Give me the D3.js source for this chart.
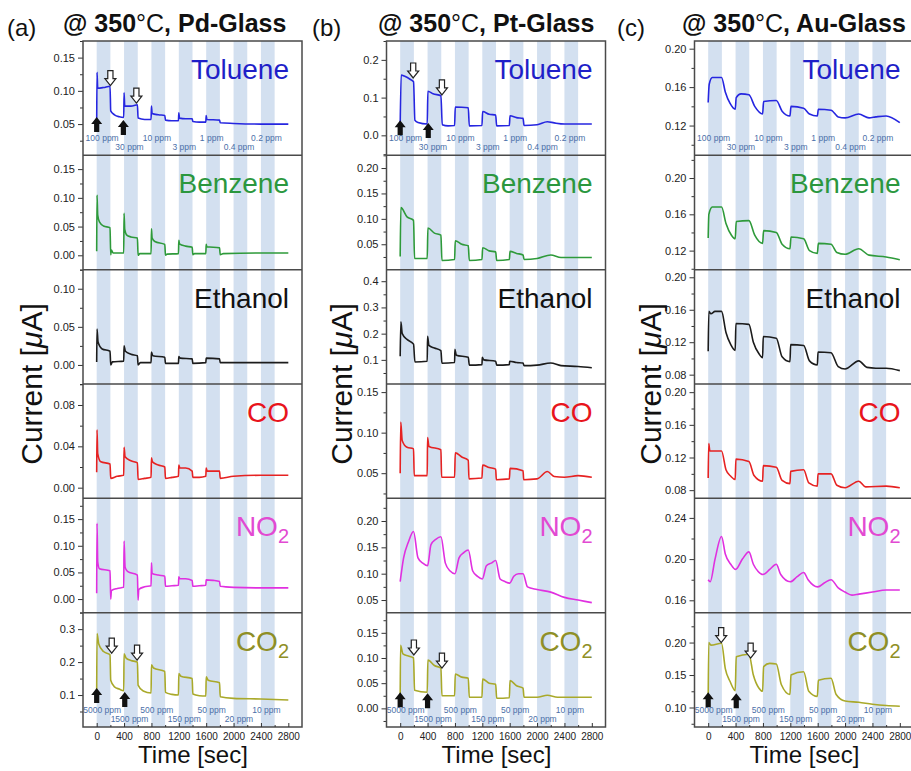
<!DOCTYPE html>
<html>
<head>
<meta charset="utf-8">
<script src="https://cdn.jsdelivr.net/npm/d3@7"></script>
<style>
body { margin: 0; background: #fff; }
svg { display: block; font-family: "Liberation Sans", Arial, sans-serif; }
</style>
</head>
<body>
<svg></svg>
<script>
// gases, one sub-plot each, top to bottom
var gases = ['Toluene', 'Benzene', 'Ethanol', 'CO', 'NO2', 'CO2'];
var pulseStarts = [0, 400, 800, 1200, 1600, 2000, 2400];
var pulseLength = 200;
var toluenePpm = ['100 ppm', '30 ppm', '10 ppm', '3 ppm', '1 ppm', '0.4 ppm', '0.2 ppm'];
var co2Ppm = ['5000 ppm', '1500 ppm', '500 ppm', '150 ppm', '50 ppm', '20 ppm', '10 ppm'];
var xTicks = [0, 400, 800, 1200, 1600, 2000, 2400, 2800];

// ---- (a) Pd-Glass ----
var pdToluene = [[0,0.050],[5,0.128],[15,0.104],[100,0.105],[195,0.107],[205,0.070],[260,0.064],[330,0.061],[395,0.060],[400,0.097],[410,0.077],[500,0.077],[595,0.079],[605,0.059],[700,0.057],[795,0.057],[800,0.077],[810,0.066],[900,0.064],[995,0.063],[1005,0.056],[1100,0.055],[1195,0.055],[1200,0.067],[1210,0.059],[1300,0.058],[1395,0.058],[1405,0.054],[1500,0.053],[1595,0.053],[1600,0.063],[1610,0.057],[1795,0.056],[1805,0.052],[2000,0.051],[2400,0.050],[2800,0.050]];
var pdBenzene = [[0,0.007],[5,0.105],[15,0.070],[40,0.058],[100,0.051],[195,0.048],[205,0.001],[215,0.009],[240,0.004],[395,0.004],[400,0.073],[410,0.045],[440,0.035],[500,0.032],[595,0.030],[605,0.000],[630,0.003],[795,0.003],[800,0.046],[810,0.030],[850,0.024],[995,0.019],[1005,0.000],[1030,0.002],[1195,0.003],[1200,0.026],[1210,0.020],[1300,0.016],[1395,0.014],[1405,0.001],[1430,0.003],[1595,0.003],[1600,0.019],[1610,0.015],[1795,0.013],[1805,0.001],[1850,0.003],[2400,0.004],[2800,0.004]];
var pdEthanol = [[0,0.004],[5,0.047],[20,0.030],[80,0.021],[195,0.018],[205,0.000],[230,0.004],[395,0.005],[400,0.025],[420,0.018],[500,0.014],[595,0.012],[605,0.000],[640,0.003],[795,0.003],[800,0.017],[820,0.012],[995,0.010],[1005,0.002],[1195,0.002],[1200,0.011],[1220,0.009],[1395,0.008],[1405,0.002],[1595,0.003],[1600,0.009],[1795,0.008],[1805,0.003],[2800,0.003]];
var pdCO = [[0,0.015],[5,0.056],[15,0.033],[60,0.025],[195,0.023],[205,0.009],[300,0.011],[395,0.012],[400,0.039],[415,0.030],[500,0.026],[595,0.024],[605,0.008],[700,0.009],[795,0.010],[800,0.029],[815,0.025],[900,0.022],[995,0.020],[1005,0.009],[1100,0.010],[1195,0.011],[1200,0.022],[1215,0.019],[1300,0.019],[1395,0.016],[1405,0.010],[1500,0.010],[1595,0.011],[1600,0.019],[1615,0.016],[1795,0.016],[1805,0.009],[2000,0.011],[2400,0.012],[2800,0.012]];
var pdNO2 = [[0,0.011],[5,0.142],[15,0.070],[40,0.057],[195,0.053],[205,0.000],[215,0.016],[300,0.020],[395,0.022],[400,0.109],[415,0.060],[450,0.052],[595,0.045],[605,-0.002],[615,0.018],[700,0.023],[795,0.025],[800,0.068],[810,0.048],[900,0.045],[995,0.043],[1005,0.024],[1100,0.025],[1195,0.026],[1200,0.042],[1215,0.038],[1300,0.038],[1395,0.035],[1405,0.024],[1500,0.025],[1595,0.026],[1600,0.036],[1700,0.035],[1795,0.033],[1805,0.024],[2000,0.022],[2400,0.021],[2800,0.021]];
var pdCO2 = [[0,0.110],[5,0.287],[30,0.255],[100,0.232],[195,0.222],[205,0.145],[260,0.125],[330,0.118],[395,0.113],[400,0.225],[430,0.212],[500,0.205],[595,0.200],[605,0.130],[680,0.112],[795,0.106],[800,0.192],[830,0.182],[995,0.172],[1005,0.108],[1100,0.102],[1195,0.100],[1200,0.165],[1230,0.157],[1395,0.150],[1405,0.103],[1500,0.098],[1595,0.097],[1600,0.155],[1630,0.145],[1795,0.137],[1805,0.095],[2000,0.090],[2400,0.088],[2800,0.085]];
var pdRanges = [[0.003,0.175],[-0.025,0.174],[-0.025,0.125],[-0.0103,0.1003],[-0.0255,0.189],[0.003,0.35]];
var pdTicks = [[0.05,0.10,0.15],[0,0.05,0.10,0.15],[0,0.05,0.10],[0,0.04,0.08],[0,0.05,0.10,0.15],[0.1,0.2,0.3]];
// [sub-plot, time, value of arrow tip]
var pdArrowUp = [[0,0,0.0605],[0,390,0.056],[5,0,0.121],[5,410,0.109]];
var pdArrowDown = [[0,200,0.108],[0,580,0.0815],[5,220,0.227],[5,590,0.206]];

// ---- (b) Pt-Glass ----
var ptToluene = [[0,0.026],[15,0.160],[60,0.157],[150,0.148],[195,0.142],[215,0.040],[260,0.034],[395,0.030],[405,0.117],[480,0.110],[595,0.105],[615,0.028],[700,0.025],[795,0.026],[805,0.075],[995,0.073],[1010,0.025],[1195,0.026],[1205,0.063],[1300,0.056],[1395,0.054],[1410,0.025],[1595,0.026],[1605,0.052],[1700,0.047],[1795,0.045],[1810,0.026],[2000,0.028],[2150,0.036],[2250,0.033],[2400,0.030],[2800,0.030]];
var ptBenzene = [[0,0.026],[10,0.122],[100,0.104],[195,0.097],[210,0.022],[395,0.022],[405,0.082],[500,0.072],[595,0.068],[610,0.018],[795,0.020],[805,0.057],[900,0.050],[995,0.047],[1010,0.018],[1195,0.020],[1205,0.043],[1300,0.037],[1395,0.035],[1410,0.018],[1595,0.020],[1605,0.036],[1700,0.032],[1795,0.029],[1810,0.020],[2000,0.022],[2200,0.029],[2350,0.024],[2800,0.024]];
var ptEthanol = [[0,0.114],[10,0.245],[30,0.200],[100,0.178],[195,0.160],[215,0.092],[395,0.095],[400,0.190],[420,0.155],[500,0.145],[595,0.135],[610,0.087],[795,0.090],[800,0.140],[820,0.118],[995,0.110],[1010,0.080],[1195,0.082],[1200,0.110],[1220,0.100],[1395,0.095],[1410,0.080],[1595,0.082],[1600,0.095],[1700,0.090],[1795,0.088],[1810,0.078],[2000,0.080],[2200,0.088],[2350,0.078],[2600,0.075],[2800,0.070]];
var ptCO = [[0,0.050],[8,0.113],[30,0.090],[100,0.082],[195,0.080],[205,0.047],[395,0.047],[400,0.094],[420,0.083],[595,0.079],[605,0.045],[795,0.045],[805,0.075],[900,0.070],[995,0.066],[1005,0.043],[1195,0.044],[1205,0.060],[1300,0.057],[1395,0.055],[1405,0.042],[1595,0.043],[1605,0.056],[1795,0.053],[1805,0.042],[2000,0.043],[2150,0.052],[2250,0.046],[2400,0.045],[2600,0.047],[2800,0.045]];
var ptNO2 = [[0,0.085],[50,0.130],[120,0.160],[195,0.180],[260,0.130],[330,0.120],[400,0.115],[450,0.155],[520,0.165],[595,0.170],[660,0.120],[730,0.105],[800,0.100],[860,0.130],[930,0.140],[995,0.145],[1060,0.105],[1130,0.095],[1200,0.090],[1260,0.115],[1330,0.120],[1395,0.125],[1460,0.090],[1530,0.085],[1600,0.082],[1660,0.095],[1730,0.100],[1795,0.100],[1860,0.075],[2000,0.070],[2200,0.065],[2400,0.055],[2600,0.050],[2800,0.045]];
var ptCO2 = [[0,0.016],[5,0.125],[40,0.108],[120,0.104],[195,0.100],[210,0.036],[395,0.032],[405,0.096],[500,0.085],[595,0.080],[610,0.025],[795,0.025],[805,0.068],[900,0.062],[995,0.060],[1010,0.022],[1195,0.022],[1205,0.058],[1300,0.050],[1395,0.048],[1410,0.020],[1595,0.021],[1605,0.055],[1700,0.045],[1795,0.040],[1810,0.022],[2000,0.022],[2150,0.026],[2300,0.022],[2800,0.022]];
var ptRanges = [[-0.053,0.25],[0,0.225],[0.008,0.444],[0.019,0.16],[0.026,0.243],[-0.037,0.19]];
var ptTicks = [[0,0.1,0.2],[0.05,0.10,0.15,0.20],[0.1,0.2,0.3,0.4],[0.05,0.10,0.15],[0.05,0.10,0.15,0.20],[0,0.05,0.10,0.15]];
var ptArrowUp = [[0,0,0.040],[0,410,0.0325],[5,0,0.032],[5,400,0.030]];
var ptArrowDown = [[0,190,0.152],[0,610,0.107],[5,200,0.106],[5,610,0.080]];

// ---- (c) Au-Glass ----
var auToluene = [[0,0.144],[15,0.163],[60,0.170],[195,0.170],[250,0.155],[320,0.143],[395,0.137],[410,0.149],[480,0.153],[595,0.152],[680,0.140],[795,0.132],[810,0.145],[995,0.146],[1080,0.135],[1195,0.130],[1210,0.140],[1395,0.138],[1480,0.132],[1595,0.130],[1610,0.137],[1795,0.136],[1900,0.129],[2000,0.128],[2200,0.132],[2350,0.128],[2450,0.129],[2600,0.130],[2800,0.123]];
var auBenzene = [[0,0.134],[10,0.160],[60,0.168],[195,0.168],[260,0.150],[340,0.137],[395,0.133],[410,0.152],[595,0.153],[680,0.137],[795,0.128],[810,0.142],[995,0.140],[1080,0.127],[1195,0.122],[1210,0.135],[1395,0.133],[1480,0.120],[1595,0.117],[1610,0.128],[1795,0.127],[1880,0.118],[2000,0.116],[2200,0.122],[2350,0.115],[2600,0.113],[2800,0.110]];
var auEthanol = [[0,0.109],[10,0.158],[40,0.155],[100,0.158],[195,0.158],[260,0.132],[330,0.117],[395,0.110],[405,0.143],[595,0.142],[660,0.120],[740,0.106],[795,0.101],[805,0.127],[995,0.125],[1080,0.102],[1195,0.096],[1205,0.117],[1395,0.116],[1480,0.097],[1595,0.092],[1605,0.108],[1795,0.107],[1900,0.090],[2000,0.087],[2200,0.097],[2320,0.089],[2450,0.088],[2600,0.088],[2800,0.085]];
var auCO = [[0,0.095],[8,0.137],[25,0.128],[195,0.128],[260,0.105],[330,0.097],[395,0.093],[405,0.118],[595,0.115],[670,0.098],[795,0.091],[805,0.110],[995,0.108],[1080,0.092],[1195,0.088],[1205,0.103],[1395,0.105],[1470,0.089],[1595,0.085],[1605,0.100],[1795,0.100],[1880,0.086],[2000,0.083],[2200,0.091],[2300,0.084],[2600,0.085],[2800,0.083]];
var auNO2 = [[0,0.180],[30,0.178],[100,0.200],[195,0.222],[250,0.205],[330,0.195],[400,0.190],[500,0.200],[595,0.207],[660,0.195],[730,0.188],[800,0.185],[900,0.190],[995,0.195],[1060,0.185],[1200,0.178],[1300,0.183],[1395,0.187],[1460,0.180],[1600,0.173],[1700,0.177],[1795,0.180],[1900,0.172],[2000,0.168],[2100,0.165],[2200,0.166],[2400,0.168],[2600,0.170],[2800,0.170]];
var auCO2 = [[0,0.111],[8,0.200],[40,0.196],[195,0.199],[250,0.160],[320,0.140],[395,0.126],[410,0.178],[595,0.182],[660,0.150],[740,0.130],[795,0.125],[810,0.163],[900,0.168],[995,0.167],[1070,0.135],[1195,0.120],[1210,0.150],[1395,0.155],[1470,0.125],[1595,0.117],[1610,0.142],[1795,0.145],[1870,0.120],[2000,0.110],[2200,0.108],[2400,0.105],[2600,0.103],[2800,0.102]];
var auRanges = [[0.089,0.208],[0.099,0.225],[0.0685,0.2094],[0.07,0.21],[0.148,0.259],[0.07,0.246]];
var auTicks = [[0.12,0.16,0.20],[0.12,0.16,0.20],[0.08,0.12,0.16,0.20],[0.08,0.12,0.16,0.20],[0.16,0.20,0.24],[0.10,0.15,0.20]];
var auArrowUp = [[5,0,0.1235],[5,410,0.122]];
var auArrowDown = [[5,190,0.200],[5,620,0.176]];

// styles
var lineColors = ['#2626e0', '#2e9a3a', '#1c1c1c', '#e62222', '#e030e0', '#a9a92a'];
var labelColors = ['#1f1fc8', '#2b973e', '#111111', '#e8141c', '#e24ad2', '#8f8f26'];

var WIDTH = 911;
var HEIGHT = 771;
var TOP = 41, BOTTOM = 727, PW = 219;
var subH = (BOTTOM - TOP) / 6;

var panels = [
  {tag: '(a)', glass: 'Pd-Glass', left: 83, tagX: 7, titleX: 63, yTitleX: 42,
   series: [pdToluene, pdBenzene, pdEthanol, pdCO, pdNO2, pdCO2],
   ranges: pdRanges, ticks: pdTicks, up: pdArrowUp, down: pdArrowDown},
  {tag: '(b)', glass: 'Pt-Glass', left: 386.5, tagX: 312, titleX: 378, yTitleX: 352,
   series: [ptToluene, ptBenzene, ptEthanol, ptCO, ptNO2, ptCO2],
   ranges: ptRanges, ticks: ptTicks, up: ptArrowUp, down: ptArrowDown},
  {tag: '(c)', glass: 'Au-Glass', left: 694.5, tagX: 617, titleX: 682, yTitleX: 661,
   series: [auToluene, auBenzene, auEthanol, auCO, auNO2, auCO2],
   ranges: auRanges, ticks: auTicks, up: auArrowUp, down: auArrowDown}
];

var svg = d3.select('svg')
  .attr('width', WIDTH)
  .attr('height', HEIGHT);

var upPath = 'M0,0 L5.5,7 L2.6,7 L2.6,15 L-2.6,15 L-2.6,7 L-5.5,7 Z';
var downPath = 'M0,0 L5.5,-7 L2.6,-7 L2.6,-15 L-2.6,-15 L-2.6,-7 L-5.5,-7 Z';

panels.forEach(function(p, pi) {
  var g = svg.append('g');
  var xScale = d3.scaleLinear().domain([-200, 3000]).range([p.left, p.left + PW]);

  // exposure bands
  g.selectAll('rect.band')
    .data(pulseStarts)
    .enter()
    .append('rect')
    .attr('x', function(d) { return xScale(d); })
    .attr('width', function(d) { return xScale(d + pulseLength) - xScale(d); })
    .attr('y', TOP)
    .attr('height', BOTTOM - TOP)
    .attr('fill', '#d3e0f0');

  var yScales = [];
  p.series.forEach(function(data, si) {
    var top = TOP + si * subH;
    var yScale = d3.scaleLinear().domain(p.ranges[si]).range([top + subH, top]);
    yScales.push(yScale);

    var clipId = 'clip' + pi + '_' + si;
    g.append('clipPath').attr('id', clipId)
      .append('rect').attr('x', p.left).attr('y', top).attr('width', PW).attr('height', subH);

    var line = d3.line()
      .x(function(d) { return xScale(d[0]); })
      .y(function(d) { return yScale(d[1]); })
      .curve(d3.curveMonotoneX);

    g.append('path')
      .datum(data)
      .attr('clip-path', 'url(#' + clipId + ')')
      .attr('d', line)
      .attr('fill', 'none')
      .attr('stroke', lineColors[si])
      .attr('stroke-width', 1.6)
      .attr('stroke-linejoin', 'round');

    // y axis, majors + minors
    var maj = p.ticks[si];
    var step = maj[1] - maj[0];
    var fmt = d3.format('.' + d3.precisionFixed(step) + 'f');
    var dom = p.ranges[si];
    var minors = [];
    for (var v = maj[0] - step / 2; v <= dom[1]; v += step) {
      if (v >= dom[0]) minors.push(v);
    }
    var ax = g.append('g')
      .attr('transform', 'translate(' + p.left + ',0)')
      .call(d3.axisLeft(yScale).tickValues(maj).tickFormat(fmt).tickSize(5).tickPadding(3));
    ax.select('.domain').remove();
    ax.selectAll('line').attr('stroke', '#333').attr('stroke-width', 1);
    ax.selectAll('text').attr('font-size', 11).attr('fill', '#222')
      .attr('font-family', '"Liberation Sans", Arial, sans-serif');
    var mx = g.append('g')
      .attr('transform', 'translate(' + p.left + ',0)')
      .call(d3.axisLeft(yScale).tickValues(minors).tickFormat('').tickSize(3));
    mx.select('.domain').remove();
    mx.selectAll('line').attr('stroke', '#333').attr('stroke-width', 1);

    // gas label
    var lab = g.append('text')
      .attr('x', p.left + PW - 13)
      .attr('y', top + 38)
      .attr('text-anchor', 'end')
      .attr('font-size', 28)
      .attr('fill', labelColors[si]);
    if (gases[si] === 'NO2' || gases[si] === 'CO2') {
      lab.append('tspan').text(gases[si].slice(0, 2));
      lab.append('tspan').attr('font-size', 20).attr('dy', 7).text('2');
    } else {
      lab.text(gases[si]);
    }
  });

  // concentration labels
  [[0, toluenePpm], [5, co2Ppm]].forEach(function(pair) {
    var bottom = TOP + (pair[0] + 1) * subH;
    g.selectAll(null)
      .data(pair[1])
      .enter()
      .append('text')
      .attr('x', function(d, i) { return xScale(pulseStarts[i] + 80); })
      .attr('y', function(d, i) { return i % 2 === 0 ? bottom - 14 : bottom - 5; })
      .attr('text-anchor', 'middle')
      .attr('font-size', 8.5)
      .attr('fill', '#4b6fa8')
      .text(function(d) { return d; });
  });

  // arrows
  g.selectAll(null)
    .data(p.up)
    .enter()
    .append('path')
    .attr('d', upPath)
    .attr('transform', function(d) { return 'translate(' + xScale(d[1]) + ',' + yScales[d[0]](d[2]) + ')'; })
    .attr('fill', '#111');
  g.selectAll(null)
    .data(p.down)
    .enter()
    .append('path')
    .attr('d', downPath)
    .attr('transform', function(d) { return 'translate(' + xScale(d[1]) + ',' + yScales[d[0]](d[2]) + ')'; })
    .attr('fill', '#fff')
    .attr('stroke', '#222')
    .attr('stroke-width', 1.2);

  // dividers and frame
  for (var k = 1; k < 6; k++) {
    g.append('line')
      .attr('x1', p.left).attr('x2', p.left + PW)
      .attr('y1', TOP + k * subH).attr('y2', TOP + k * subH)
      .attr('stroke', '#4a4a4a').attr('stroke-width', 1.5);
  }
  g.append('rect')
    .attr('x', p.left).attr('y', TOP).attr('width', PW).attr('height', BOTTOM - TOP)
    .attr('fill', 'none').attr('stroke', '#4a4a4a').attr('stroke-width', 1.5);

  // x axis, ticks pointing in
  var xa = g.append('g')
    .attr('transform', 'translate(0,' + BOTTOM + ')')
    .call(d3.axisBottom(xScale).tickValues(xTicks).tickFormat(d3.format('d'))
      .tickSizeInner(-4).tickSizeOuter(0).tickPadding(6));
  xa.select('.domain').remove();
  xa.selectAll('line').attr('stroke', '#333');
  xa.selectAll('text').attr('font-size', 10).attr('fill', '#222')
    .attr('font-family', '"Liberation Sans", Arial, sans-serif');
  var xm = g.append('g')
    .attr('transform', 'translate(0,' + BOTTOM + ')')
    .call(d3.axisBottom(xScale).tickValues(xTicks.slice(0, -1).map(function(t) { return t + 200; }))
      .tickSizeInner(-2).tickSizeOuter(0).tickFormat(''));
  xm.select('.domain').remove();
  xm.selectAll('line').attr('stroke', '#333');

  g.append('text')
    .attr('x', p.left + 110)
    .attr('y', 763)
    .attr('text-anchor', 'middle')
    .attr('font-size', 24)
    .attr('fill', '#111')
    .text('Time [sec]');

  // y title
  var yt = g.append('text')
    .attr('transform', 'translate(' + p.yTitleX + ',' + ((TOP + BOTTOM) / 2) + ') rotate(-90)')
    .attr('text-anchor', 'middle')
    .attr('font-size', 30)
    .attr('fill', '#111');
  yt.append('tspan').text('Current [');
  yt.append('tspan').attr('font-style', 'italic').text('\u03bc');
  yt.append('tspan').text('A]');

  // panel tag and title
  g.append('text')
    .attr('x', p.tagX).attr('y', 36)
    .attr('font-size', 24).attr('fill', '#111')
    .text(p.tag);
  var tt = g.append('text')
    .attr('x', p.titleX).attr('y', 32)
    .attr('font-size', 25).attr('fill', '#111').attr('font-weight', 'bold');
  tt.append('tspan').text('@ 350');
  tt.append('tspan').attr('font-weight', 'normal').text('\u00b0C');
  tt.append('tspan').text(', ' + p.glass);
});
</script>
</body>
</html>
